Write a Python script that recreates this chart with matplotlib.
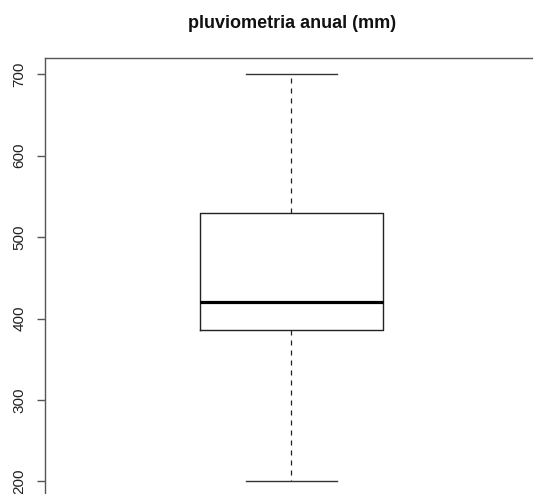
import matplotlib
matplotlib.use("Agg")
import matplotlib.pyplot as plt

# Annual rainfall summary (mm)
whisker_low = 200
q1 = 386
median = 420
q3 = 530
whisker_high = 700
y_ticks = [200, 300, 400, 500, 600, 700]

plt.rcParams['font.family'] = ['Liberation Sans', 'DejaVu Sans']

fig = plt.figure(figsize=(5.33, 4.94), dpi=100)
# axes run past the right and bottom edges of the figure
ax = fig.add_axes([44.7 / 533, 1 - 497.6 / 494, (538 - 44.7) / 533, (497.6 - 58) / 494])

stats = [{
    'whislo': whisker_low, 'q1': q1, 'med': median,
    'q3': q3, 'whishi': whisker_high, 'fliers': [],
}]
ax.bxp(stats, positions=[1], widths=0.4, showfliers=False,
       boxprops=dict(color='#222222', linewidth=1.0),
       medianprops=dict(color='black', linewidth=2.3, solid_capstyle='butt'),
       whiskerprops=dict(color='#222222', linewidth=0.9, linestyle=(0, (4, 4))),
       capprops=dict(color='#333333', linewidth=1.0),
       capwidths=0.2)

ax.set_xlim(0.46, 1.54)
ax.set_ylim(180, 720)
ax.set_xticks([])
ax.set_yticks(y_ticks)
ax.set_yticklabels([str(t) for t in y_ticks], rotation=90, va='center', fontsize=11,
                   color='#222222')
ax.tick_params(axis='y', length=6, width=1, color='#555555', pad=7)

for side in ['right', 'bottom']:
    ax.spines[side].set_visible(False)
for side in ['left', 'top']:
    ax.spines[side].set_color('#555555')
    ax.spines[side].set_linewidth(1.0)

fig.text(292 / 533, 1 - 23 / 494, 'pluviometria anual (mm)', ha='center', va='center',
         fontsize=13, fontweight='bold', color='#111111')

fig.savefig('out.png', dpi=100)
